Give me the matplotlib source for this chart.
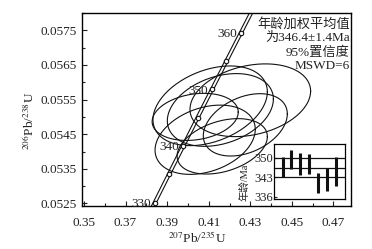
import numpy as np
import matplotlib
matplotlib.use("Agg")
import matplotlib.pyplot as plt

plt.rcParams['font.family'] = ['Liberation Serif', 'Noto Sans CJK SC']
plt.rcParams['mathtext.fontset'] = 'stix'

# spot analyses: 207Pb/235U, 206Pb/238U (2 sigma half extents), rho
x207 = [0.4107, 0.4300, 0.4156, 0.4035, 0.4083, 0.4165, 0.4276]
x207_err = [0.0275, 0.0290, 0.0255, 0.0207, 0.0241, 0.0217, 0.0202]
y206 = [0.05532, 0.05548, 0.05520, 0.05500, 0.05434, 0.05415, 0.05477]
y206_err = [0.00115, 0.00105, 0.00105, 0.00068, 0.00100, 0.00080, 0.00090]
rho = [0.35, 0.25, 0.30, 0.20, 0.30, 0.35, 0.35]

# concordia ages
conc_ages = [330, 335, 340, 345, 350, 355, 360]
conc_labels = [330, 340, 350, 360]

# inset: individual ages
spot_no = [1, 2, 3, 4, 5, 6, 7]
spot_age = [346.8, 349.5, 347.8, 347.9, 341.1, 342.2, 345.0]
spot_err = [3.6, 3.5, 3.9, 3.5, 3.5, 4.2, 5.2]
mean_lines = [350.0, 346.4, 343.0]

l238 = 1.55125e-10
l235 = 9.8485e-10

def concordia(t_ma):
    t = np.asarray(t_ma) * 1e6
    return np.exp(l235 * t) - 1, np.exp(l238 * t) - 1

fig = plt.figure(figsize=(3.72, 2.49), dpi=100)
ax = fig.add_axes([0.220, 0.173, 0.724, 0.775])

# concordia band
t = np.linspace(326, 364, 200)
cx, cy = concordia(t)
for off in (-0.0008, 0.0008):
    ax.plot(cx + off, cy, color='#111111', lw=0.8)
mx, my = concordia(conc_ages)
ax.plot(mx, my, 'o', ms=3.2, mfc='white', mec='#111111', mew=0.8, zorder=5)
lx, ly = concordia(conc_labels)
for a, xx, yy in zip(conc_labels, lx, ly):
    ax.annotate(str(a), (xx, yy), xytext=(-3, -1), textcoords='offset points',
                ha='right', va='center', fontsize=9.5, color='#222222')

# error ellipses
tt = np.linspace(0, 2 * np.pi, 200)
for x0, sx, y0, sy, r in zip(x207, x207_err, y206, y206_err, rho):
    ex = x0 + sx * np.cos(tt)
    ey = y0 + sy * (r * np.cos(tt) + np.sqrt(1 - r ** 2) * np.sin(tt))
    ax.plot(ex, ey, color='#111111', lw=0.8)

ax.set_xlim(0.349, 0.4785)
ax.set_ylim(0.05243, 0.05799)
ax.set_xticks([0.35, 0.37, 0.39, 0.41, 0.43, 0.45, 0.47])
ax.set_xticklabels(['0.35', '0.37', '0.39', '0.41', '0.43', '0.45', '0.47'])
ax.set_xticks(np.arange(0.36, 0.48, 0.02), minor=True)
ax.set_yticks([0.0525, 0.0535, 0.0545, 0.0555, 0.0565, 0.0575])
ax.set_yticklabels(['0.0525', '0.0535', '0.0545', '0.0555', '0.0565', '0.0575'])
ax.set_yticks(np.arange(0.0530, 0.0580, 0.001), minor=True)
ax.tick_params(which='both', direction='in', labelsize=9.5, colors='#222222')
ax.tick_params(which='major', length=3.5, width=0.8)
ax.tick_params(which='minor', length=2.5, width=0.8)
ax.tick_params(axis='x', pad=8)
for s in ax.spines.values():
    s.set_linewidth(1.0)

ax.set_xlabel(r'$^{207}$Pb/$^{235}$U', fontsize=9.5, color='#222222')
ax.set_ylabel(r'$^{206}$Pb/$^{238}$U', fontsize=9.5, color='#222222')
ax.xaxis.set_label_coords(0.43, -0.125)
ax.yaxis.set_label_coords(-0.165, 0.44)

ax.text(0.995, 0.975, '年龄加权平均值\n为346.4±1.4Ma\n95%置信度\nMSWD=6',
        transform=ax.transAxes, ha='right', va='top', fontsize=9.5,
        linespacing=1.2, color='#222222')

# inset
ins = fig.add_axes([0.737, 0.201, 0.191, 0.221])
ins.vlines(spot_no, np.array(spot_age) - np.array(spot_err),
           np.array(spot_age) + np.array(spot_err), color='#111111', lw=2.2)
for v in mean_lines:
    ins.axhline(v, color='#111111', lw=0.9)
ins.set_xlim(0.05, 8.1)
ins.set_ylim(335.3, 355.0)
ins.set_xticks([])
ins.set_yticks([336, 343, 350])
ins.tick_params(direction='in', length=2.5, labelsize=9, pad=1, colors='#222222')
ins.set_ylabel('年龄/Ma', fontsize=7.5, color='#222222')
ins.yaxis.set_label_coords(-0.35, 0.30)
for s in ins.spines.values():
    s.set_linewidth(0.9)

fig.savefig('out.png', dpi=100)
